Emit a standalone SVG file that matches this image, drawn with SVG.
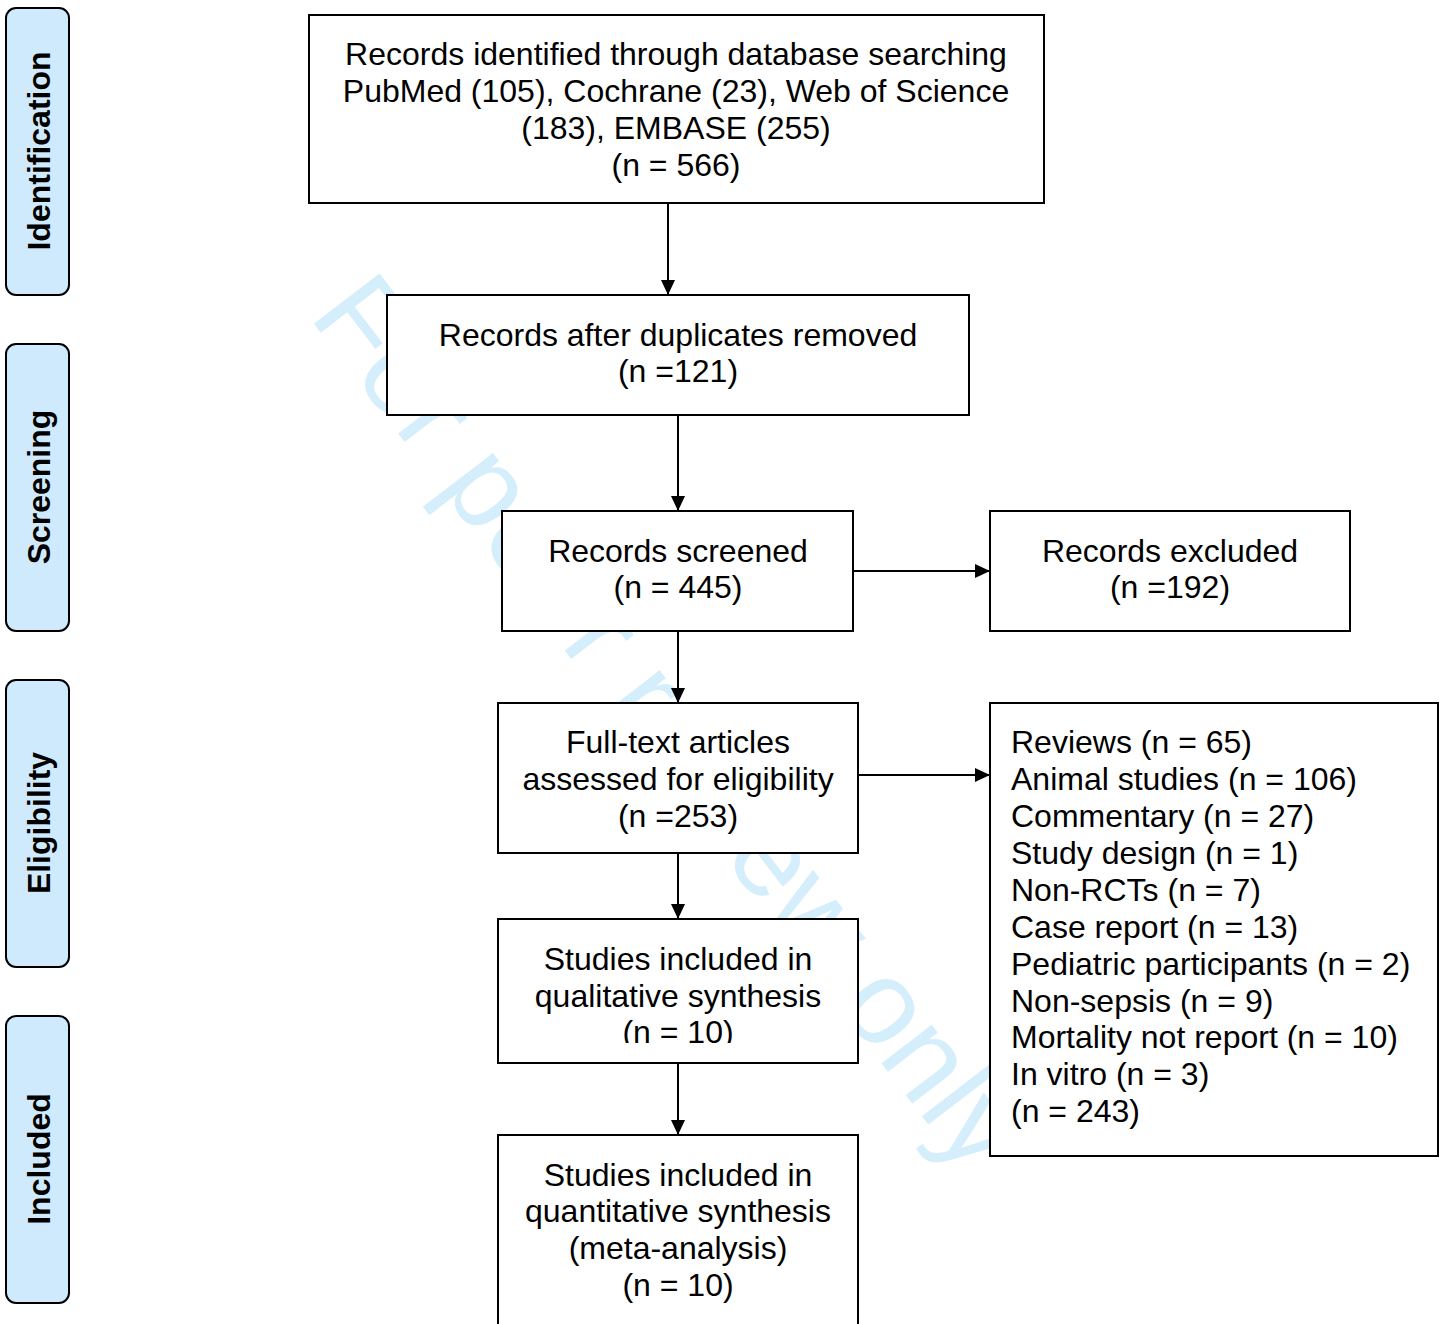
<svg xmlns="http://www.w3.org/2000/svg" width="1445" height="1324" viewBox="0 0 1445 1324">
<style>
.box{fill:#fff;stroke:#000;stroke-width:2}
.t{font-family:"Liberation Sans",Arial,sans-serif;font-size:32px;fill:#000}
.c{text-anchor:middle}
.side{fill:#cfeafc;stroke:#000;stroke-width:2}
.st{font-family:"Liberation Sans",Arial,sans-serif;font-size:32px;font-weight:bold;fill:#000;text-anchor:middle}
.wm{font-family:"Liberation Sans",Arial,sans-serif;font-size:120px;fill:#d4eefb}
.ln{stroke:#000;stroke-width:2;fill:none;marker-end:url(#ah)}
</style>
<defs>
<marker id="ah" markerWidth="15" markerHeight="14" refX="15" refY="7" orient="auto" markerUnits="userSpaceOnUse">
<path d="M0,0 L15,7 L0,14 Z" fill="#000"/>
</marker>
<clipPath id="qclip"><rect x="498" y="919" width="360" height="124"/></clipPath>
</defs>
<rect width="1445" height="1324" fill="#fff"/>
<g id="watermark">
<text class="wm" transform="translate(308,316) rotate(52.5)">For peer review only</text>
</g>
<g id="stage-identification"><rect class="side" x="6" y="8" width="63" height="287" rx="10"/><text class="st" transform="translate(50,151) rotate(-90)">Identification</text></g>
<g id="stage-screening"><rect class="side" x="6" y="344" width="63" height="287" rx="10"/><text class="st" transform="translate(50,487) rotate(-90)">Screening</text></g>
<g id="stage-eligibility"><rect class="side" x="6" y="680" width="63" height="287" rx="10"/><text class="st" transform="translate(50,823) rotate(-90)">Eligibility</text></g>
<g id="stage-included"><rect class="side" x="6" y="1016" width="63" height="287" rx="10"/><text class="st" transform="translate(50,1159) rotate(-90)">Included</text></g>
<g id="connectors">
<line class="ln" x1="668" y1="203" x2="668" y2="295"/>
<line class="ln" x1="678" y1="415" x2="678" y2="511"/>
<line class="ln" x1="678" y1="631" x2="678" y2="703"/>
<line class="ln" x1="678" y1="848" x2="678" y2="919"/>
<line class="ln" x1="678" y1="1063" x2="678" y2="1135"/>
<line class="ln" x1="853" y1="571" x2="990" y2="571"/>
<line class="ln" x1="858" y1="775" x2="990" y2="775"/>
</g>
<g id="identified"><rect class="box" x="309" y="15" width="735" height="188"/>
<text class="t c" x="676" y="65">Records identified through database searching</text>
<text class="t c" x="676" y="102">PubMed (105), Cochrane (23), Web of Science</text>
<text class="t c" x="676" y="139">(183), EMBASE (255)</text>
<text class="t c" x="676" y="176">(n = 566)</text></g>
<g id="duplicates"><rect class="box" x="387" y="295" width="582" height="120"/>
<text class="t c" x="678" y="346">Records after duplicates removed</text>
<text class="t c" x="678" y="382">(n =121)</text></g>
<g id="screened"><rect class="box" x="502" y="511" width="351" height="120"/>
<text class="t c" x="678" y="562">Records screened</text>
<text class="t c" x="678" y="598">(n = 445)</text></g>
<g id="excluded"><rect class="box" x="990" y="511" width="360" height="120"/>
<text class="t c" x="1170" y="562">Records excluded</text>
<text class="t c" x="1170" y="598">(n =192)</text></g>
<g id="fulltext"><rect class="box" x="498" y="703" width="360" height="150"/>
<text class="t c" x="678" y="753">Full-text articles</text>
<text class="t c" x="678" y="790">assessed for eligibility</text>
<text class="t c" x="678" y="827">(n =253)</text></g>
<g id="ft-excluded"><rect class="box" x="990" y="703" width="448" height="453"/>
<text class="t" x="1011" y="753">Reviews (n = 65)</text>
<text class="t" x="1011" y="790">Animal studies (n = 106)</text>
<text class="t" x="1011" y="827">Commentary (n = 27)</text>
<text class="t" x="1011" y="864">Study design (n = 1)</text>
<text class="t" x="1011" y="901">Non-RCTs (n = 7)</text>
<text class="t" x="1011" y="938">Case report (n = 13)</text>
<text class="t" x="1011" y="975">Pediatric participants (n = 2)</text>
<text class="t" x="1011" y="1012">Non-sepsis (n = 9)</text>
<text class="t" x="1011" y="1048">Mortality not report (n = 10)</text>
<text class="t" x="1011" y="1085">In vitro (n = 3)</text>
<text class="t" x="1011" y="1122">(n = 243)</text></g>
<g id="qualitative"><rect class="box" x="498" y="919" width="360" height="144"/>
<g clip-path="url(#qclip)">
<text class="t c" x="678" y="970">Studies included in</text>
<text class="t c" x="678" y="1007">qualitative synthesis</text>
<text class="t c" x="678" y="1043">(n = 10)</text></g></g>
<g id="quantitative"><rect class="box" x="498" y="1135" width="360" height="200"/>
<text class="t c" x="678" y="1186">Studies included in</text>
<text class="t c" x="678" y="1222">quantitative synthesis</text>
<text class="t c" x="678" y="1259">(meta-analysis)</text>
<text class="t c" x="678" y="1296">(n = 10)</text></g>
</svg>
